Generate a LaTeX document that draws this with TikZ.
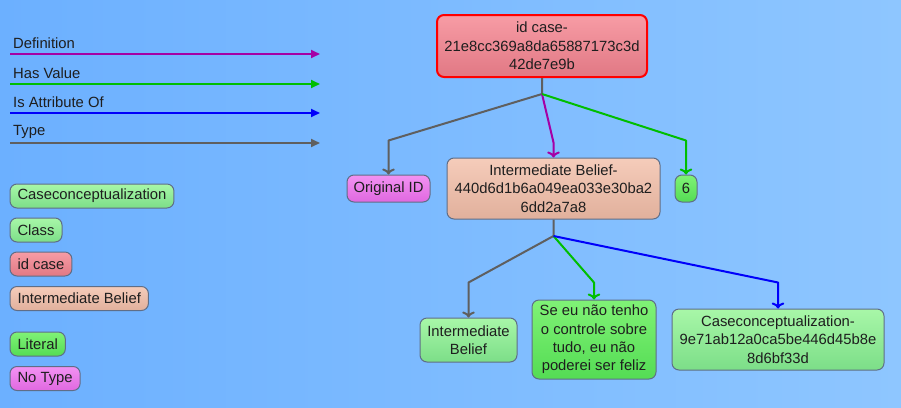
\documentclass[tikz,border=0pt]{standalone}
\usepackage{fontspec}
\setmainfont{Liberation Sans}
\usetikzlibrary{positioning, calc, arrows.meta}
\definecolor{bgL}{RGB}{108,176,255}
\definecolor{bgR}{RGB}{142,198,255}
\definecolor{txt}{RGB}{30,30,30}
\definecolor{rim}{RGB}{95,110,135}
\definecolor{defn}{RGB}{165,0,165}
\definecolor{hasv}{RGB}{0,190,0}
\definecolor{isat}{RGB}{0,0,250}
\definecolor{typ}{RGB}{95,95,95}
\tikzset{
  box/.style={draw=rim, line width=1pt, rounded corners=7pt, align=center, text=txt,
    font=\fontsize{14.8}{18.3}\selectfont, inner sep=2pt},
  lgbox/.style={box, anchor=west, minimum height=24pt, inner xsep=7.5pt},
  lgtxt/.style={anchor=west, text=txt, font=\fontsize{14.8}{18}\selectfont, inner sep=1pt},
  idcase/.style={top color={rgb,255:red,247;green,156;blue,165}, bottom color={rgb,255:red,225;green,120;blue,132}},
  ibel/.style={top color={rgb,255:red,245;green,204;blue,186}, bottom color={rgb,255:red,225;green,176;blue,156}},
  ccls/.style={top color={rgb,255:red,168;green,247;blue,168}, bottom color={rgb,255:red,124;green,222;blue,136}},
  lit/.style={top color={rgb,255:red,128;green,242;blue,118}, bottom color={rgb,255:red,84;green,220;blue,84}},
  notype/.style={top color={rgb,255:red,242;green,146;blue,242}, bottom color={rgb,255:red,224;green,104;blue,224}},
  rel/.style={line width=2pt, line join=round, arrows={-Triangle[length=9pt,width=8pt]}},
}
\begin{document}
\begin{tikzpicture}[x=1pt,y=-1pt]
  \shade[left color=bgL, right color=bgR] (0,0) rectangle (901,407);
  \useasboundingbox (0,0) rectangle (901,407);

  % legend
  \node[lgtxt] (LDEF) at (12,43) {Definition};
  \node[lgtxt] (LHAS) at (12,73) {Has Value};
  \node[lgtxt] (LATT) at (12,102) {Is Attribute Of};
  \node[lgtxt] (LTYP) at (12,132) {Type};
  \coordinate (D0) at (10,54);  \coordinate (D1) at (320,54);
  \coordinate (H0) at (10,84);  \coordinate (H1) at (320,84);
  \coordinate (A0) at (10,113); \coordinate (A1) at (320,113);
  \coordinate (T0) at (10,143); \coordinate (T1) at (320,143);
  \draw[rel, defn] (D0) -- (D1);
  \draw[rel, hasv] (H0) -- (H1);
  \draw[rel, isat] (A0) -- (A1);
  \draw[rel, typ] (T0) -- (T1);

  \node[lgbox, ccls] (LCC) at (9.5,196) {Caseconceptualization};
  \node[lgbox, ccls] (LCL) at (9.5,230) {Class};
  \node[lgbox, idcase] (LID) at (9.5,264) {id case};
  \node[lgbox, ibel] (LIB) at (9.5,298.5) {Intermediate Belief};
  \node[lgbox, lit] (LLI) at (9.5,344) {Literal};
  \node[lgbox, notype] (LNT) at (9.5,378.5) {No Type};

  % graph
  \node[box, idcase, draw=red, line width=2pt, minimum width=210pt, minimum height=62pt] (IDC1) at (542,46)
    {id case-\\21e8cc369a8da65887173c3d\\42de7e9b};
  \node[box, notype, minimum width=83pt, minimum height=27pt] (OID1) at (388.5,188.5) {Original ID};
  \node[box, ibel, minimum width=213pt, minimum height=61pt] (IB1) at (553.5,188.5)
    {Intermediate Belief-\\440d6d1b6a049ea033e30ba2\\6dd2a7a8};
  \node[box, lit, minimum width=22pt, minimum height=27pt] (V61) at (686,188.5) {6};
  \node[box, ccls, minimum width=97pt, minimum height=44pt] (IBC1) at (468.5,340) {Intermediate\\Belief};
  \node[box, lit, minimum width=124pt, minimum height=79pt] (LIT1) at (594,339.5)
    {Se eu não tenho\\o controle sobre\\tudo, eu não\\poderei ser feliz};
  \node[box, ccls, minimum width=212pt, minimum height=61pt] (CC1) at (778,339.5)
    {Caseconceptualization-\\9e71ab12a0ca5be446d45b8e\\8d6bf33d};

  \coordinate (J1) at (542,94);
  \coordinate (J2) at (553.5,236);

  \draw[rel, typ, <-] (OID1) -- ([yshift=34pt]OID1.north) -- (J1) -- (IDC1);
  \draw[rel, defn, <-] (IB1) -- ([yshift=15pt]IB1.north) -- (J1);
  \draw[rel, hasv, <-] (V61) -- ([yshift=34pt]V61.north) -- (J1);

  \draw[rel, typ, <-] (IBC1) -- ([yshift=35pt]IBC1.north) -- (J2) -- (IB1);
  \draw[rel, hasv, <-] (LIT1) -- ([yshift=17pt]LIT1.north) -- (J2);
  \draw[rel, isat, <-] (CC1) -- ([yshift=26pt]CC1.north) -- (J2);
\end{tikzpicture}
\end{document}
